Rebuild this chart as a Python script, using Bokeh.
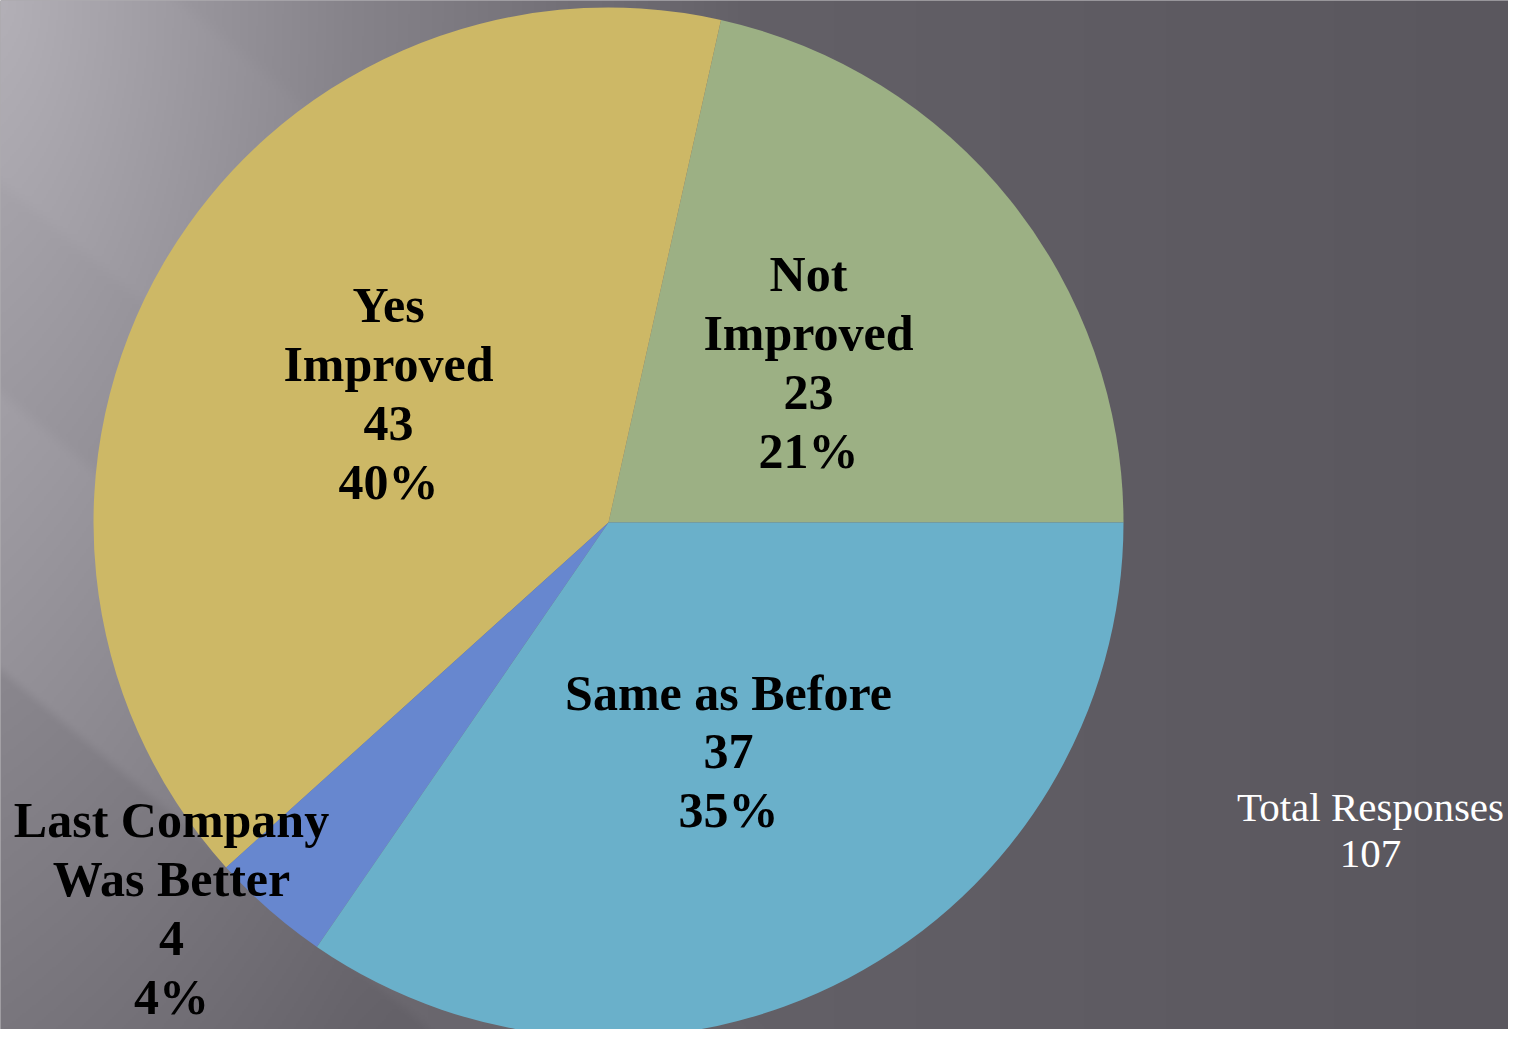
import numpy as np
from bokeh.plotting import figure
from bokeh.models import ColumnDataSource, Range1d
from bokeh.core.properties import value
from bokeh.embed import file_html
from bokeh.resources import INLINE

# ---- data ----
categories = ["Not\nImproved", "Yes\nImproved", "Last Company\nWas Better", "Same as Before"]
counts = [23, 43, 4, 37]
colors = ["#9CB084", "#CDB866", "#6787CF", "#6AB0CA"]
total_label = "Total Responses"

# ---- layout constants ----
W, H = 1508, 1029
CX, CY_SCREEN, R = 608, 522, 515
CY = H - CY_SCREEN
# label block centres in screen pixels
label_pos = [(808, 362), (388, 393), (171, 908), (728, 751)]

total = sum(counts)
vals = np.array(counts, dtype=float)
ends = np.cumsum(vals) / total * 2 * np.pi
starts = np.concatenate([[0.0], ends[:-1]])
pcts = [int(round(v / total * 100)) for v in counts]
labels = [f"{c}\n{v}\n{p}%" for c, v, p in zip(categories, counts, pcts)]

p = figure(width=W, height=H, output_backend="svg", toolbar_location=None,
           x_range=Range1d(0, W), y_range=Range1d(0, H), min_border=0)
p.axis.visible = False
p.grid.visible = False
p.outline_line_color = None
p.background_fill_color = "#5C5960"
p.border_fill_color = "#5C5960"

# ---- background gradient (decoration) ----
nx, ny = W // 2, H // 2
xs = (np.arange(nx) + 0.5) * W / nx
ys_data = (np.arange(ny) + 0.5) * H / ny
Ys = H - ys_data
X, Y = np.meshgrid(xs, Ys)
base = 90 + 18 * np.clip(1 - X / 1500, 0, 1)
d = np.sqrt(X ** 2 + (Y / 1.6) ** 2)
glow = 57 * np.clip(1 - d / 750, 0, 1)
left = 10 * np.clip(1 - X / 350, 0, 1)
s = -0.643 * X + 0.766 * Y


def smoothstep(a, b, t):
    u = np.clip((t - a) / (b - a), 0, 1)
    return u * u * (3 - 2 * u)


fade = np.clip(1 - X / 900, 0, 1)
band = (4 * smoothstep(-125, -105, s) * (1 - smoothstep(130, 150, s))
        + 6 * smoothstep(290, 310, s) * (1 - smoothstep(505, 520, s))
        - 5 * smoothstep(505, 520, s))
v = base + glow + left + band * fade
r = np.clip(v, 0, 255).astype(np.uint32)
g = np.clip(v - 3, 0, 255).astype(np.uint32)
b = np.clip(v + 4, 0, 255).astype(np.uint32)
img = (255 << 24) | (b << 16) | (g << 8) | r
p.image_rgba(image=[img.astype(np.uint32)], x=0, y=0, dw=W, dh=H)

# ---- pie ----
src = ColumnDataSource(dict(start=starts, end=ends, color=colors,
                            name=categories, count=counts))
p.wedge(x=CX, y=CY, radius=R, start_angle="start", end_angle="end",
        fill_color="color", line_color=None, source=src)

# ---- labels ----
lsrc = ColumnDataSource(dict(
    x=[lx for lx, ly in label_pos],
    y=[H - ly for lx, ly in label_pos],
    text=labels))
p.text(x="x", y="y", text="text", source=lsrc, text_align="center",
       text_baseline="middle", text_font=value("Liberation Serif"),
       text_font_style="bold", text_font_size="50px", text_color="black",
       text_line_height=1.05)

p.text(x=[1370], y=[H - 829], text=[f"{total_label}\n{total}"],
       text_align="center", text_baseline="middle",
       text_font=value("Liberation Serif"), text_font_size="41px",
       text_color="white", text_line_height=1.0)

open("out.html", "w").write(file_html(p, INLINE))
